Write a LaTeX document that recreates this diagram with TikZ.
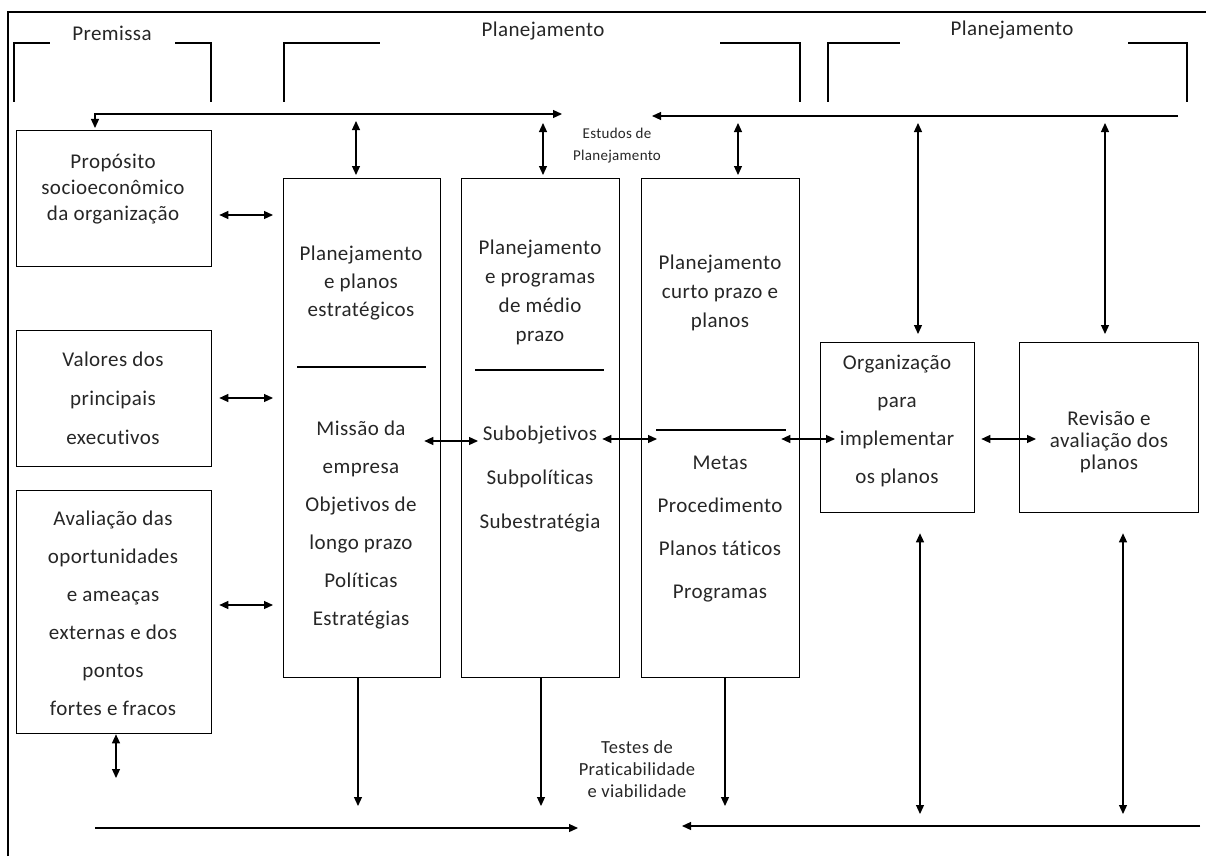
\documentclass[tikz,border=0pt]{standalone}
\usepackage{fontspec}
\setmainfont[LetterSpace=2,Ligatures={NoCommon,NoContextual}]{Carlito}
\usetikzlibrary{arrows.meta,calc}
\begin{document}
\begin{tikzpicture}[x=1pt,y=-1pt, line width=1.2pt,
  arr/.style={-{Triangle[length=9pt,width=8pt]}},
  darr/.style={{Triangle[length=9pt,width=8pt]}-{Triangle[length=9pt,width=8pt]}},
  box/.style={draw, line width=1.3pt, anchor=north west, inner sep=0pt},
  t/.style={align=center, inner sep=0pt, text=black!85, font=\fontsize{21}{#1}\selectfont},
  small/.style={align=center, inner sep=0pt, text=black!85, font=\fontsize{15}{22}\selectfont},
  mid/.style={align=center, inner sep=0pt, text=black!85, font=\fontsize{18.5}{22}\selectfont}]
\useasboundingbox (0,0) rectangle (1206,856);
% frame
\draw (8,856) -- (8,12) -- (1206,12);
% brackets
\draw (14,102) -- (14,43) -- (50,43);
\draw (175,43) -- (211,43) -- (211,102);
\draw (284,102) -- (284,43) -- (380,43);
\draw (720,43) -- (800,43) -- (800,102);
\draw (828,102) -- (828,43) -- (900,43);
\draw (1128,43) -- (1187,43) -- (1187,102);
\node[t=24] (hprem) at (112,33) {Premissa};
\node[t=24] (hplan1) at (543,31) {Planejamento};
\node[t=24] (hplan2) at (1012,30) {Planejamento};
% boxes
\node[box, minimum width=195, minimum height=136] (prop) at (16,130) {};
\node[box, minimum width=195, minimum height=136] (val) at (16,330) {};
\node[box, minimum width=195, minimum height=243] (aval) at (16,490) {};
\node[box, minimum width=157, minimum height=499] (b1) at (283,178) {};
\node[box, minimum width=158, minimum height=499] (b2) at (461,178) {};
\node[box, minimum width=158, minimum height=499] (b3) at (641,178) {};
\node[box, minimum width=154, minimum height=170] (org) at (820,342) {};
\node[box, minimum width=179, minimum height=170] (rev) at (1019,342) {};
% texts
\node[t=26] (tprop) at (113,189) {Propósito\\socioeconômico\\da organização};
\node[t=39] (tval) at (113,398) {Valores dos\\principais\\executivos};
\node[t=38] (taval) at (113,613) {Avaliação das\\oportunidades\\e ameaças\\externas e dos\\pontos\\fortes e fracos};
\node[t=28] (tb1a) at (361,283) {Planejamento\\e planos\\estratégicos};
\node[t=38] (tb1b) at (361,525) {Missão da\\empresa\\Objetivos de\\longo prazo\\Políticas\\Estratégias};
\node[t=29] (tb2a) at (540,292) {Planejamento\\e programas\\de médio\\prazo};
\node[t=44] (tb2b) at (540,479) {Subobjetivos\\Subpolíticas\\Subestratégia};
\node[t=29] (tb3a) at (720,293) {Planejamento\\curto prazo e\\planos};
\node[t=43] (tb3b) at (720,529) {Metas\\Procedimento\\Planos táticos\\Programas};
\node[t=38] (torg) at (897,421) {Organização\\para\\implementar\\os planos};
\node[t=22] (trev) at (1109,442) {Revisão e\\avaliação dos\\planos};
\node[small] (estudos) at (617,146) {Estudos de\\Planejamento};
\node[mid] (testes) at (637,769) {Testes de\\Praticabilidade\\e viabilidade};
% separators
\draw ($(b1.west|-0,367)+(14,0)$) -- ($(b1.east|-0,367)+(-15,0)$);
\draw ($(b2.west|-0,370)+(14,0)$) -- ($(b2.east|-0,370)+(-16,0)$);
\draw ($(b3.west|-0,430)+(15,0)$) -- ($(b3.east|-0,430)+(-14,0)$);
% top arrows
\coordinate (tl1) at (95,128);
\coordinate (tl2) at (562,114);
\draw[darr] (tl1) |- (tl2);
\coordinate (tr1) at (1178,116);
\coordinate (tr2) at (652,116);
\draw[arr] (tr1) -- (tr2);
\draw[darr] (356,121) -- ($(b1.north-|356,0)+(0,-3)$);
\draw[darr] (543,123) -- ($(b2.north-|543,0)+(0,-3)$);
\draw[darr] (738,123) -- ($(b3.north-|738,0)+(0,-3)$);
\draw[darr] (918,123) -- ($(org.north-|918,0)+(0,-8)$);
\draw[darr] (1105,123) -- ($(rev.north-|1105,0)+(0,-8)$);
% side arrows
\draw[darr] ($(prop.east|-0,215)+(7,0)$) -- ($(b1.west|-0,215)+(-10,0)$);
\draw[darr] ($(val.east|-0,398)+(7,0)$) -- ($(b1.west|-0,398)+(-10,0)$);
\draw[darr] ($(aval.east|-0,605)+(7,0)$) -- ($(b1.west|-0,605)+(-10,0)$);
\draw[darr] ($(b1.east|-0,441)+(-17,0)$) -- ($(b2.west|-0,441)+(17,0)$);
\draw[darr] ($(b2.east|-0,439)+(-18,0)$) -- ($(b3.west|-0,439)+(16,0)$);
\draw[darr] ($(b3.east|-0,439)+(-19,0)$) -- ($(org.west|-0,439)+(15,0)$);
\draw[darr] ($(org.east|-0,439)+(6,0)$) -- ($(rev.west|-0,439)+(17,0)$);
% bottom arrows
\draw[darr] (aval.south-|116,0) -- (116,778);
\draw[arr] (b1.south-|358,0) -- (358,806);
\draw[arr] (b2.south-|541,0) -- (541,806);
\draw[arr] (b3.south-|725,0) -- (725,806);
\draw[darr] ($(org.south-|920,0)+(0,20)$) -- (920,814);
\draw[darr] ($(rev.south-|1123,0)+(0,20)$) -- (1123,814);
\coordinate (bl1) at (95,828);
\coordinate (bl2) at (578,828);
\draw[arr] (bl1) -- (bl2);
\coordinate (br1) at (1200,826);
\coordinate (br2) at (682,826);
\draw[arr] (br1) -- (br2);
\end{tikzpicture}
\end{document}
